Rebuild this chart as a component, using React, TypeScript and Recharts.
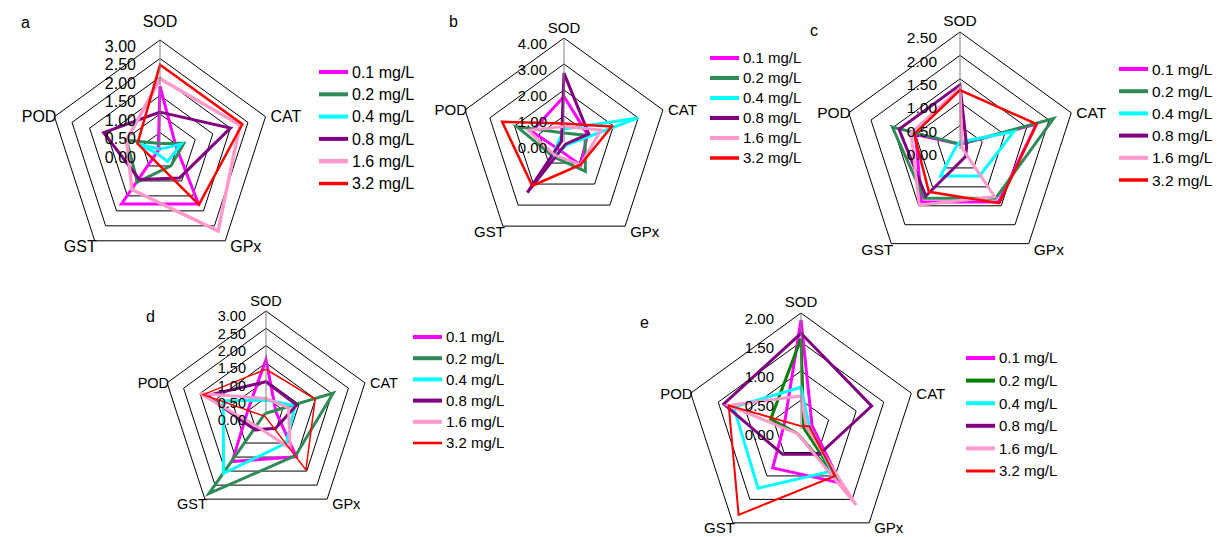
import React from "react";
import { RadarChart, Radar, PolarGrid, PolarAngleAxis, PolarRadiusAxis, Legend } from "recharts";

const FONT = "'Liberation Sans', Arial, Helvetica, sans-serif";

const axes = ["SOD", "CAT", "GPx", "GST", "POD"];
const doses = ["0.1 mg/L", "0.2 mg/L", "0.4 mg/L", "0.8 mg/L", "1.6 mg/L", "3.2 mg/L"];
const colors = ["#ff00ff", "#2e8b57", "#00ffff", "#800080", "#ff99cc", "#ff0000"];
const colorsE = ["#ff00ff", "#008000", "#00ffff", "#800080", "#ff99cc", "#ff0000"];

// values per dose, in axis order SOD, CAT, GPx, GST, POD
const panelA = [
  [1.75, 0.45, 1.77, 1.77, 0.05],
  [0.2, 0.68, 0.5, 1.04, 0.95],
  [0.05, 0.6, 0.35, 0.1, 0.6],
  [1.05, 2.0, 0.9, 0.95, 1.6],
  [1.95, 2.27, 2.67, 1.29, 0.95],
  [2.33, 2.34, 1.79, 0.29, 0.64],
];
const panelB = [
  [1.75, 0.95, 1.1, 0.35, 1.3],
  [0.35, 0.85, 1.4, 0.7, 1.9],
  [0.5, 3.0, 0.15, 0.85, 0.2],
  [2.65, 1.0, 0.1, 2.4, 0.1],
  [0.6, 1.5, 1.08, 0.62, 1.45],
  [0.71, 1.93, 1.08, 2.08, 2.5],
];
const panelC = [
  [0.1, 1.72, 1.4, 1.4, 1.0],
  [0.1, 2.1, 1.3, 1.3, 1.52],
  [0.15, 1.21, 0.71, 0.71, 0.1],
  [1.37, 0.15, 0.2, 1.24, 1.37],
  [1.3, 0.05, 1.26, 1.48, 1.1],
  [1.26, 1.72, 1.43, 1.13, 1.03],
];
const panelD = [
  [1.6, 0.3, 1.49, 1.66, 0.54],
  [0.05, 2.04, 1.45, 2.8, 0.05],
  [0.43, 0.88, 1.0, 2.08, 1.3],
  [0.96, 0.93, 0.47, 0.53, 1.8],
  [0.48, 0.68, 1.19, 0.42, 2.0],
  [1.32, 1.49, 1.96, 0.05, 1.9],
];
const panelE = [
  [1.88, 0.2, 1.15, 0.83, 0.3],
  [1.56, 0.05, 1.08, 0.1, 0.55],
  [0.72, 0.15, 0.9, 1.26, 1.22],
  [1.65, 1.28, 0.54, 0.54, 1.4],
  [0.57, 0.1, 1.62, 0.1, 1.31],
  [0.05, 0.15, 1.0, 1.83, 1.31],
];

type Panel = {
  letter: string;
  lx: number;
  ly: number;
  values: number[][];
  palette: string[];
  cx: number;
  cy: number;
  r: number;
  max: number;
  step: number;
  fs: number;
  tickDx: number;
  sodGap: number;
  legX: number;
  legY: number;
  legGap: number;
  legFs: number;
  widths: number[];
};

const panels: Panel[] = [
  { letter: "a", lx: 21, ly: 28, values: panelA, palette: colors, cx: 160, cy: 151, r: 111, max: 3, step: 0.5, fs: 16, tickDx: 24, sodGap: 13, legX: 319, legY: 72, legGap: 22.3, legFs: 16, widths: [3, 3, 3, 3, 3.5, 2.5] },
  { letter: "b", lx: 449, ly: 27, values: panelB, palette: colors, cx: 564, cy: 142, r: 104, max: 4, step: 1, fs: 15, tickDx: 17, sodGap: 5, legX: 710, legY: 58, legGap: 20, legFs: 15, widths: [3, 3, 3, 3, 3, 2.5] },
  { letter: "c", lx: 810, ly: 36, values: panelC, palette: colors, cx: 960, cy: 149, r: 117, max: 2.5, step: 0.5, fs: 15.5, tickDx: 23, sodGap: 6, legX: 1119, legY: 69, legGap: 22.2, legFs: 15.5, widths: [3, 3, 3, 3, 3, 2.5] },
  { letter: "d", lx: 146, ly: 322, values: panelD, palette: colors, cx: 266, cy: 415, r: 104, max: 3, step: 0.5, fs: 14.5, tickDx: 20, sodGap: 5, legX: 413, legY: 337, legGap: 21.2, legFs: 15, widths: [3, 3, 3, 3, 3, 1.5] },
  { letter: "e", lx: 640, ly: 328, values: panelE, palette: colorsE, cx: 801, cy: 429, r: 116, max: 2, step: 0.5, fs: 15, tickDx: 27, sodGap: 6, legX: 966, legY: 358, legGap: 22.6, legFs: 15, widths: [3, 3, 3, 3, 3, 2] },
];

const W = 1224;
const H = 537;

function RadarPanel({ p }: { p: Panel }) {
  const data = axes.map((axis, i) => {
    const row: Record<string, number | string> = { axis };
    p.values.forEach((s, k) => {
      row["s" + k] = s[i];
    });
    return row;
  });

  const ticks: number[] = [];
  for (let v = 0; v <= p.max + 1e-9; v += p.step) ticks.push(Math.round(v * 100) / 100);

  const angleTick = (props: any) => {
    const label = String(props.payload?.value ?? "");
    const i = axes.indexOf(label);
    const th = ((90 - 72 * i) * Math.PI) / 180;
    const vx = p.cx + p.r * Math.cos(th);
    const vy = p.cy - p.r * Math.sin(th);
    let x = vx;
    let y = vy;
    let anchor: "start" | "middle" | "end" = "middle";
    if (label === "SOD") {
      y = vy - p.sodGap;
    } else if (label === "CAT") {
      x = vx + 5;
      y = vy + p.fs * 0.36;
      anchor = "start";
    } else if (label === "POD") {
      x = vx + 2;
      y = vy + p.fs * 0.36;
      anchor = "end";
    } else if (label === "GPx") {
      x = vx + 5;
      y = vy + p.fs * 0.7;
      anchor = "start";
    } else {
      x = vx + 2;
      y = vy + p.fs * 0.7;
      anchor = "end";
    }
    return (
      <text x={x} y={y} textAnchor={anchor} fontSize={p.fs} fontFamily={FONT} fill="#000">
        {label}
      </text>
    );
  };

  const radiusTick = (props: any) => (
    <text
      x={props.x - p.tickDx}
      y={props.y + p.fs * 0.72}
      textAnchor="end"
      fontSize={p.fs}
      fontFamily={FONT}
      fill="#000"
    >
      {Number(props.payload?.value ?? 0).toFixed(2)}
    </text>
  );

  const legendContent = (props: any) => {
    const items = props.payload ?? [];
    return (
      <svg width={130} height={p.legGap * 6 + 10} style={{ overflow: "visible" }}>
        {items.map((it: any, i: number) => {
          const y = 10 + i * p.legGap;
          return (
            <g key={i}>
              <line x1={0} x2={29} y1={y} y2={y} stroke={it.color ?? p.palette[i]} strokeWidth={p.widths[i] + 1} />
              <text x={33} y={y + p.legFs * 0.36} fontSize={p.legFs} fontFamily={FONT} fill="#000">
                {it.value ?? doses[i]}
              </text>
            </g>
          );
        })}
      </svg>
    );
  };

  return (
    <div style={{ position: "absolute", left: 0, top: 0, width: W, height: H }}>
      <RadarChart
        width={W}
        height={H}
        data={data}
        cx={p.cx}
        cy={p.cy}
        outerRadius={p.r}
        margin={{ top: 0, right: 0, bottom: 0, left: 0 }}
      >
        <PolarGrid gridType="polygon" radialLines={false} stroke="#000" strokeWidth={1} />
        <PolarAngleAxis dataKey="axis" tick={angleTick} tickLine={false} axisLine={false} />
        <PolarRadiusAxis
          angle={90}
          type="number"
          domain={[0, p.max]}
          allowDataOverflow
          allowDecimals
          tickCount={ticks.length}
          ticks={ticks}
          tick={radiusTick}
          tickLine={false}
          axisLine={{ stroke: "#808080", strokeWidth: 1 }}
        />
        {doses.map((d, k) => (
          <Radar
            key={d}
            name={d}
            dataKey={"s" + k}
            stroke={p.palette[k]}
            strokeWidth={p.widths[k]}
            fill="none"
            fillOpacity={0}
            dot={false}
            isAnimationActive={false}
          />
        ))}
        <Legend
          layout="vertical"
          align="right"
          verticalAlign="top"
          content={legendContent}
          wrapperStyle={{ position: "absolute", left: p.legX, top: p.legY - 10, width: 130 }}
        />
      </RadarChart>
    </div>
  );
}

export default function App() {
  return (
    <div style={{ position: "absolute", left: 0, top: 0, width: W, height: H, background: "#fff" }}>
      {panels.map((p) => (
        <RadarPanel key={p.letter} p={p} />
      ))}
      <svg width={W} height={H} style={{ position: "absolute", left: 0, top: 0, pointerEvents: "none" }}>
        {panels.map((p) => (
          <text key={p.letter} x={p.lx} y={p.ly} fontSize={16} fontFamily={FONT} fill="#000">
            {p.letter}
          </text>
        ))}
      </svg>
    </div>
  );
}
